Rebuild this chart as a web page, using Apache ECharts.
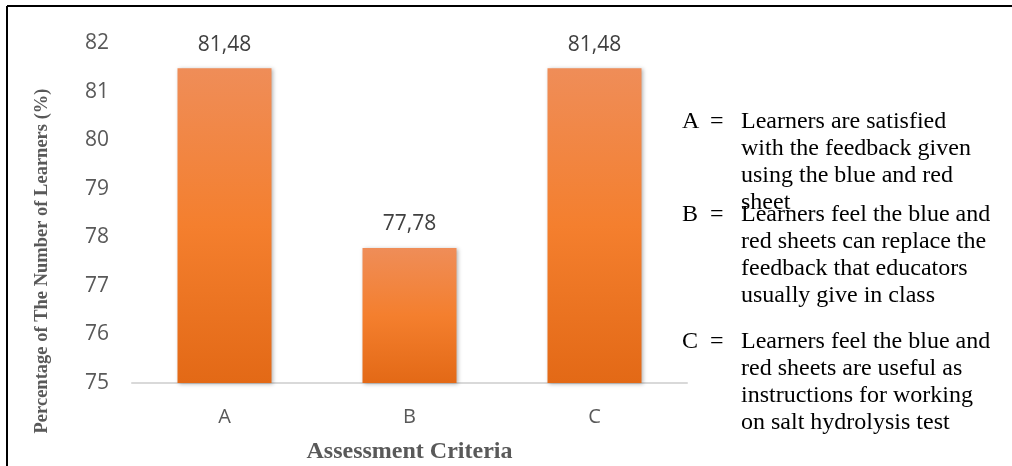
<!DOCTYPE html>
<html>
<head>
<meta charset="utf-8">
<script src="https://cdn.jsdelivr.net/npm/echarts@6/dist/echarts.min.js"></script>
<style>
html,body{margin:0;padding:0;background:#fff;}
#chart{width:1012px;height:466px;}
</style>
</head>
<body>
<div id="chart"></div>
<script>
var categories = ['A', 'B', 'C'];
var values = [81.48, 77.78, 81.48];
var yMin = 75, yMax = 82, yStep = 1;
var yAxisTitle = 'Percentage of The Number of Learners (%)';
var xAxisTitle = 'Assessment Criteria';
var noteKeys = ['A', 'B', 'C'];
var noteTexts = [
  'Learners are satisfied\nwith the feedback given\nusing the blue and red\nsheet',
  'Learners feel the blue and\nred sheets can replace the\nfeedback that educators\nusually give in class',
  'Learners feel the blue and\nred sheets are useful as\ninstructions for working\non salt hydrolysis test'
];
var noteTops = [108, 201, 328];

var chart = echarts.init(document.getElementById('chart'));
var graphics = [
  {type:'line', shape:{x1:7,y1:6,x2:1012,y2:6}, style:{stroke:'#000',lineWidth:2}},
  {type:'line', shape:{x1:7,y1:6,x2:7,y2:466}, style:{stroke:'#000',lineWidth:2}},
  {type:'text', x:42, y:261, rotation:Math.PI/2, style:{text:yAxisTitle, font:'bold 18.5px "Liberation Serif"', fill:'#595959', align:'center', verticalAlign:'middle'}}
];
noteKeys.forEach(function(k, i){
  graphics.push({type:'text', left:682, top:noteTops[i], style:{text:k, font:'24px "Liberation Serif"', fill:'#000', lineHeight:27}});
  graphics.push({type:'text', left:710, top:noteTops[i], style:{text:'=', font:'24px "Liberation Serif"', fill:'#000', lineHeight:27}});
  graphics.push({type:'text', left:741, top:noteTops[i], style:{text:noteTexts[i], font:'24px "Liberation Serif"', fill:'#000', lineHeight:27}});
});

chart.setOption({
  animation:false,
  grid:{left:132, right:325, top:43, bottom:83, containLabel:false, outerBoundsMode:'none'},
  xAxis:{
    type:'category', data:categories,
    axisLine:{lineStyle:{color:'#d9d9d9', width:2}},
    axisTick:{show:false},
    axisLabel:{color:'#595959', fontFamily:'Open Sans', fontSize:20, margin:24},
    name:xAxisTitle, nameLocation:'middle', nameGap:57,
    nameTextStyle:{fontFamily:'Liberation Serif', fontWeight:'bold', fontSize:24, color:'#595959'}
  },
  yAxis:{
    type:'value', min:yMin, max:yMax, interval:yStep,
    axisLine:{show:false}, axisTick:{show:false}, splitLine:{show:false},
    axisLabel:{color:'#595959', fontFamily:'Open Sans', fontSize:21, margin:23}
  },
  series:[{
    type:'bar', data:values, barWidth:94,
    itemStyle:{
      color:new echarts.graphic.LinearGradient(0,0,0,1,[
        {offset:0,color:'#ef8d58'},{offset:0.5,color:'#f47f2e'},{offset:1,color:'#e36916'}
      ]),
      shadowBlur:4, shadowColor:'rgba(0,0,0,0.3)', shadowOffsetX:1, shadowOffsetY:1
    },
    label:{show:true, position:'top', distance:13, color:'#404040', fontFamily:'Open Sans', fontSize:21,
      formatter:function(p){return String(p.value).replace('.', ',');}}
  }],
  graphic:graphics
});
</script>
</body>
</html>
